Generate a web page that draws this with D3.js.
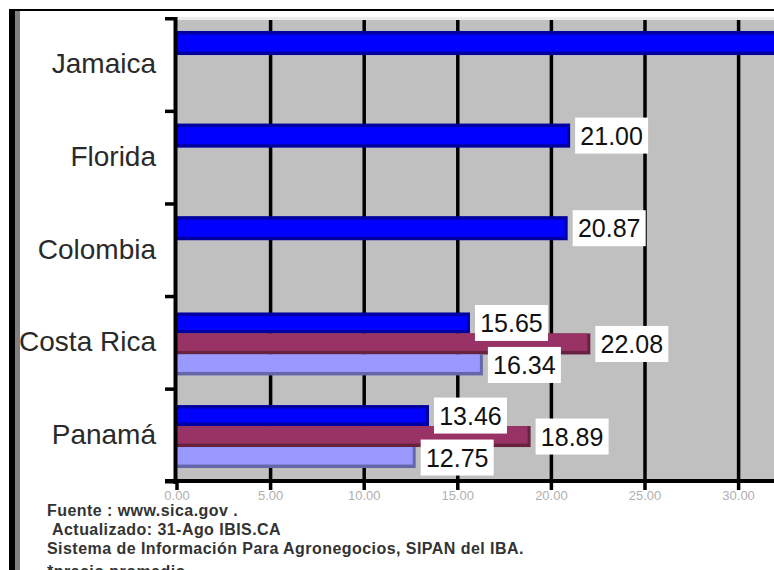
<!DOCTYPE html>
<html>
<head>
<meta charset="utf-8">
<script src="https://cdn.jsdelivr.net/npm/d3@7"></script>
<style>
	html, body { margin: 0; padding: 0; background: #fff; overflow: hidden; }
	svg { display: block; font-family: 'Liberation Sans', Arial, sans-serif; }
</style>
</head>
<body>
<svg id="chart"></svg>
<script>
const width = 774, height = 570;

// data
const categories = ['Jamaica', 'Florida', 'Colombia', 'Costa Rica', 'Panamá'];
const series1 = [32.6, 21.00, 20.87, 15.65, 13.46];
const series2 = [null, null, null, 22.08, 18.89];
const series3 = [null, null, null, 16.34, 12.75];
const xTicks = [0, 5, 10, 15, 20, 25, 30];
const notes = [
	'Fuente : www.sica.gov .',
	'Actualizado: 31-Ago IBIS.CA',
	'Sistema de Información Para Agronegocios, SIPAN del IBA.',
	'*precio promedio'
];

const seriesStyle = [
	{ fill: '#0000ff', edge: '#0000a0', top: true },
	{ fill: '#993366', edge: '#66223f', top: false },
	{ fill: '#9999ff', edge: '#6666aa', top: false }
];

const plot = { left: 177, top: 18, bottom: 481 };

const svg = d3.select('#chart')
	.attr('width', width)
	.attr('height', height);

const x = d3.scaleLinear().domain([0, 35]).range([plot.left, plot.left + 35 * 18.72]);
const y = d3.scaleBand().domain(categories).range([plot.top, plot.bottom]);

// frame of the embedded picture
svg.append('rect').attr('x', 9).attr('y', 9).attr('width', width).attr('height', 2).attr('fill', '#000');
svg.append('rect').attr('x', 9).attr('y', 9).attr('width', 6).attr('height', height).attr('fill', '#000');
svg.append('rect').attr('x', 15).attr('y', 11).attr('width', 5).attr('height', height).attr('fill', '#808080');

// plot area
svg.append('rect')
	.attr('x', plot.left).attr('y', plot.top - 1)
	.attr('width', width - plot.left).attr('height', 3)
	.attr('fill', '#ececec');
svg.append('rect')
	.attr('x', plot.left).attr('y', plot.top + 2)
	.attr('width', width - plot.left).attr('height', plot.bottom - plot.top - 2)
	.attr('fill', '#c0c0c0');

svg.append('g')
	.selectAll('line')
	.data(xTicks.slice(1))
	.join('line')
	.attr('x1', d => x(d)).attr('x2', d => x(d))
	.attr('y1', plot.top + 2).attr('y2', plot.bottom)
	.attr('stroke', '#000')
	.attr('stroke-width', 3.5);

// bars
const rows = categories.map((c, i) => ({
	cat: c,
	vals: [series1[i], series2[i], series3[i]]
		.map((v, s) => ({ v, s }))
		.filter(d => d.v != null)
}));

const bars = svg.append('g');
const labels = [];
rows.forEach(row => {
	const n = row.vals.length;
	const bw = y.bandwidth();
	const sub = d3.scaleBand().domain(d3.range(n))
		.range(n === 1 ? [bw * 0.14, bw * 0.40] : [bw * 0.18, bw * 0.86]);
	row.vals.forEach((d, k) => {
		const st = seriesStyle[d.s];
		const y0 = y(row.cat) + sub(k);
		const h = sub.bandwidth();
		const x1 = x(d.v);
		bars.append('rect')
			.attr('x', plot.left).attr('y', y0)
			.attr('width', x1 - plot.left).attr('height', h)
			.attr('fill', st.edge);
		bars.append('rect')
			.attr('x', plot.left).attr('y', y0 + (st.top ? 3.5 : 0))
			.attr('width', x1 - plot.left - 3).attr('height', h - (st.top ? 7 : 3.5))
			.attr('fill', st.fill);
		// labels past the right edge are clipped away in the original
		if (x1 + 78 < width) labels.push({ v: d.v, x: x1, y: y0 + h / 2 });
	});
});

// left axis
svg.append('rect').attr('x', plot.left - 3.5).attr('y', plot.top - 1).attr('width', 4).attr('height', plot.bottom - plot.top + 4).attr('fill', '#000');
svg.append('g')
	.selectAll('rect')
	.data(categories.concat(['end']))
	.join('rect')
	.attr('x', plot.left - 12)
	.attr('y', (d, i) => (i < categories.length ? y(d) : plot.bottom) - 1)
	.attr('width', 12).attr('height', 3.5)
	.attr('fill', '#000');

svg.append('g')
	.selectAll('text')
	.data(categories)
	.join('text')
	.attr('x', 156)
	.attr('y', d => y(d) + y.bandwidth() / 2 + 9)
	.attr('text-anchor', 'end')
	.attr('font-size', 28)
	.attr('fill', '#2a2a2a')
	.text(d => d);

// bottom axis
svg.append('rect').attr('x', plot.left - 12).attr('y', plot.bottom - 2).attr('width', width).attr('height', 4).attr('fill', '#000');
svg.append('g')
	.selectAll('rect')
	.data(xTicks)
	.join('rect')
	.attr('x', d => x(d) - 1.75)
	.attr('y', plot.bottom)
	.attr('width', 3.5).attr('height', 9)
	.attr('fill', '#000');
svg.append('g')
	.selectAll('text')
	.data(xTicks)
	.join('text')
	.attr('x', d => x(d))
	.attr('y', 500)
	.attr('text-anchor', 'middle')
	.attr('font-size', 13)
	.attr('fill', '#b0b0b0')
	.text(d3.format('.2f'));

// value labels
const lab = svg.append('g')
	.selectAll('g')
	.data(labels)
	.join('g')
	.attr('transform', d => `translate(${d.x + 5},${d.y})`);
lab.append('rect')
	.attr('x', 0).attr('y', -18)
	.attr('width', 73).attr('height', 36)
	.attr('fill', '#fff');
lab.append('text')
	.attr('x', 36.5).attr('y', 9)
	.attr('text-anchor', 'middle')
	.attr('font-size', 25)
	.attr('fill', '#111')
	.text(d => d3.format('.2f')(d.v));

// notes
svg.append('g')
	.selectAll('text')
	.data(notes)
	.join('text')
	.attr('x', (d, i) => i === 1 ? 52 : 47)
	.attr('y', (d, i) => [516, 535, 554, 577][i])
	.attr('font-size', 16)
	.attr('letter-spacing', 0.45)
	.attr('font-weight', 'bold')
	.attr('fill', '#333')
	.text(d => d);
</script>
</body>
</html>
